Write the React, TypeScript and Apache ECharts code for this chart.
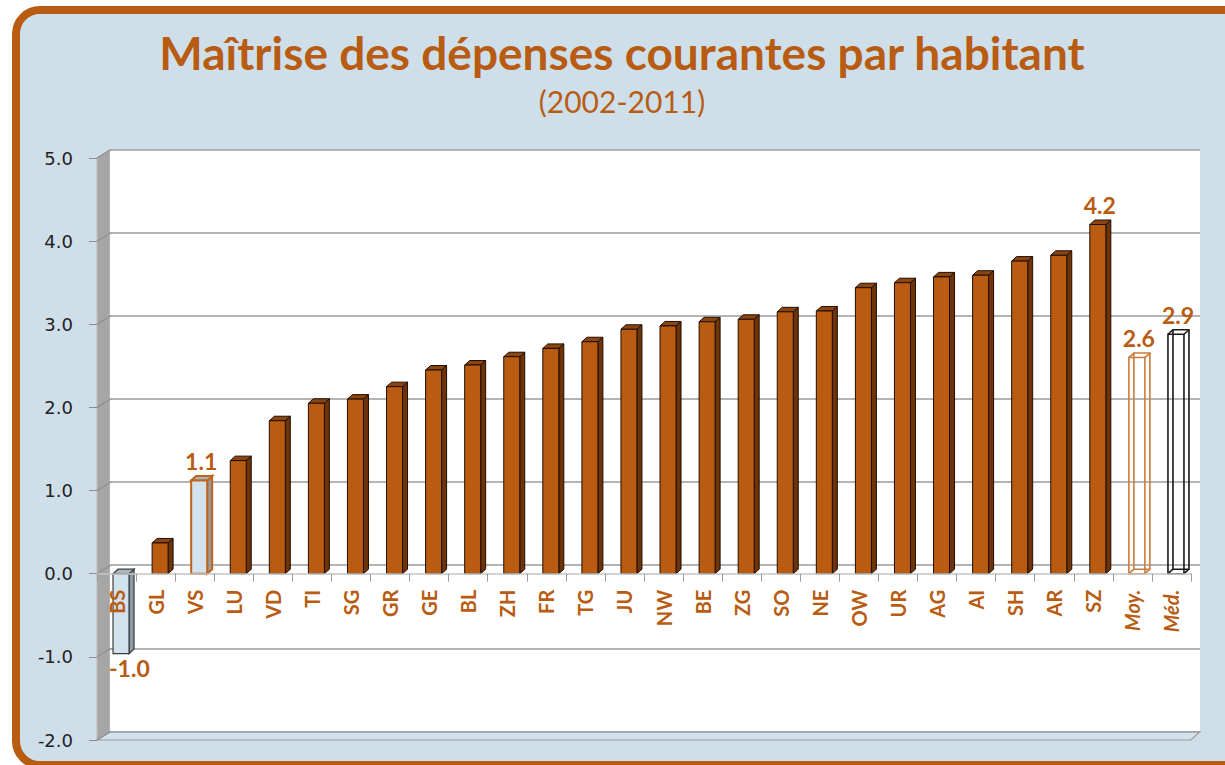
import { useEffect, useRef } from "react";
import * as echarts from "echarts";

const categories = ["BS", "GL", "VS", "LU", "VD", "TI", "SG", "GR", "GE", "BL", "ZH", "FR", "TG", "JU", "NW", "BE", "ZG", "SO", "NE", "OW", "UR", "AG", "AI", "SH", "AR", "SZ", "Moy.", "Méd."];
const values = [-0.96, 0.37, 1.12, 1.36, 1.84, 2.05, 2.1, 2.25, 2.45, 2.51, 2.61, 2.71, 2.79, 2.94, 2.98, 3.03, 3.06, 3.15, 3.16, 3.44, 3.5, 3.57, 3.59, 3.76, 3.83, 4.2, 2.6, 2.88];
const labeledCategories = ["BS", "VS", "SZ", "Moy.", "Méd."];
const yTicks = [-2, -1, 0, 1, 2, 3, 4, 5];
const titleText = "Maîtrise des dépenses courantes par habitant";
const subtitleText = "(2002-2011)";

const ORANGE = "#b85c12";
const COMIC = "'Comic Sans MS', Lato, sans-serif";
const BAR_W = 16;
const BAR_SHIFT = 4.5;
const DX = 5;
const DY = -4.5;
const WALL_DX = 14;
const WALL_DY = -8.5;

function barStyle(cat: string) {
  if (cat === "BS") return { kind: "solid", front: "#d2e2ec", side: "#8e9ba3", top: "#a9b8c0", stroke: "#3b3b3b", lw: 1.2 };
  if (cat === "VS") return { kind: "solid", front: "#d2e2ec", side: "#9a9a9a", top: "#a7b5bd", stroke: "#c0641c", lw: 2 };
  if (cat === "Moy.") return { kind: "outline", stroke: "#c97b3d", lw: 1.6 };
  if (cat === "Méd.") return { kind: "outline", stroke: "#1a1a1a", lw: 1.6 };
  return { kind: "solid", front: "#b95c12", side: "#6d3409", top: "#8c4510", stroke: "#1f0e02", lw: 1 };
}

export default function App() {
  const ref = useRef<HTMLDivElement>(null);
  useEffect(() => {
    if (!ref.current) return;
    const chart = echarts.init(ref.current, null, { renderer: "svg" });

    const barRender = (params: any, api: any) => {
      const i = api.value(0);
      const v = api.value(1);
      const cat = categories[i];
      const s: any = barStyle(cat);
      const p0 = api.coord([i, 0]);
      const p1 = api.coord([i, v]);
      const cx = p0[0] + BAR_SHIFT;
      const x0 = cx - BAR_W / 2;
      const x1 = cx + BAR_W / 2;
      const yT = Math.min(p0[1], p1[1]);
      const yB = Math.max(p0[1], p1[1]);
      const children: any[] = [];
      if (s.kind === "solid") {
        children.push({
          type: "polygon",
          shape: { points: [[x1, yT], [x1 + DX, yT + DY], [x1 + DX, yB + DY], [x1, yB]] },
          style: { fill: s.side, stroke: s.stroke, lineWidth: s.lw },
        });
        children.push({
          type: "polygon",
          shape: { points: [[x0, yT], [x0 + DX, yT + DY], [x1 + DX, yT + DY], [x1, yT]] },
          style: { fill: s.top, stroke: s.stroke, lineWidth: s.lw },
        });
        children.push({
          type: "rect",
          shape: { x: x0, y: yT, width: BAR_W, height: yB - yT },
          style: { fill: s.front, stroke: s.stroke, lineWidth: s.lw },
        });
      } else {
        const st = { fill: "none", stroke: s.stroke, lineWidth: s.lw };
        children.push({ type: "rect", shape: { x: x0 + DX, y: yT + DY, width: BAR_W, height: yB - yT }, style: st });
        children.push({ type: "line", shape: { x1: x0, y1: yT, x2: x0 + DX, y2: yT + DY }, style: st });
        children.push({ type: "line", shape: { x1: x1, y1: yT, x2: x1 + DX, y2: yT + DY }, style: st });
        children.push({ type: "line", shape: { x1: x0, y1: yB, x2: x0 + DX, y2: yB + DY }, style: st });
        children.push({ type: "line", shape: { x1: x1, y1: yB, x2: x1 + DX, y2: yB + DY }, style: st });
        children.push({ type: "rect", shape: { x: x0, y: yT, width: BAR_W, height: yB - yT }, style: st });
      }
      if (labeledCategories.indexOf(cat) >= 0) {
        const txt = v.toFixed(1);
        if (v < 0) {
          children.push({
            type: "text",
            style: { text: txt, x: x0 - 4, y: yB + 3, align: "left", verticalAlign: "top", fill: ORANGE, font: `bold 23px ${COMIC}` },
          });
        } else {
          children.push({
            type: "text",
            style: { text: txt, x: cx + 2, y: yT - 8, align: "center", verticalAlign: "bottom", fill: ORANGE, font: `bold 23px ${COMIC}` },
          });
        }
      }
      return { type: "group", children };
    };

    const wallRender = (params: any, api: any) => {
      const t = api.value(1);
      const p = api.coord([0, t]);
      const x = params.coordSys.x;
      return {
        type: "line",
        shape: { x1: x, y1: p[1], x2: x + WALL_DX, y2: p[1] + WALL_DY },
        style: { stroke: "#8f8f8f", lineWidth: 1.2 },
      };
    };

    chart.setOption({
      animation: false,
      backgroundColor: "#ffffff",
      graphic: [
        {
          type: "rect",
          z: -100,
          shape: { x: 16, y: 10, width: 1250, height: 755, r: 24 },
          style: { fill: "#cfdfe9", stroke: "#b85c12", lineWidth: 8 },
        },
        {
          type: "polygon",
          z: -50,
          shape: { points: [[97, 158], [110, 149.5], [110, 731.5], [97, 740]] },
          style: { fill: "#a6a6a6", stroke: "#bdbdbd", lineWidth: 1 },
        },
        {
          type: "polygon",
          z: -50,
          shape: { points: [[97, 740], [110, 731.5], [1200, 731.5], [1191, 740]] },
          style: { fill: "#d3e1ea", stroke: "#9b9b9b", lineWidth: 1.2 },
        },
        {
          type: "text",
          style: { text: titleText, x: 622, y: 52, align: "center", verticalAlign: "middle", fill: "#b85c14", font: `bold 46px ${COMIC}` },
        },
        {
          type: "text",
          style: { text: subtitleText, x: 622, y: 101, align: "center", verticalAlign: "middle", fill: "#b85c14", font: `30px ${COMIC}` },
        },
      ],
      grid: [
        { left: 110, top: 149.5, width: 1090, height: 582, show: true, backgroundColor: "#ffffff", borderWidth: 0, outerBoundsMode: "none", containLabel: false },
        { left: 97, top: 158, width: 1094, height: 582, outerBoundsMode: "none", containLabel: false },
        { left: 97, top: 158, width: 1094, height: 415.7, outerBoundsMode: "none", containLabel: false },
      ],
      xAxis: [
        { gridIndex: 0, type: "value", show: false, min: 0, max: 1 },
        { gridIndex: 1, type: "category", data: categories, show: false },
        {
          gridIndex: 2,
          type: "category",
          data: categories,
          position: "bottom",
          z: 20,
          axisLine: { show: true, onZero: false, lineStyle: { color: "#c4c4c4", width: 1.5 } },
          axisTick: { show: true, length: 8, alignWithLabel: false, lineStyle: { color: "#9a9a9a" } },
          axisLabel: {
            interval: 0,
            rotate: 90,
            margin: 16,
            color: ORANGE,
            fontFamily: COMIC,
            fontWeight: "bold",
            fontSize: 20,
            formatter: (v: string) => (v === "Moy." || v === "Méd." ? `{it|${v}}` : v),
            rich: { it: { fontStyle: "italic", fontWeight: "bold", fontFamily: COMIC, fontSize: 20, color: ORANGE } },
          },
          splitLine: { show: false },
        },
      ],
      yAxis: [
        {
          gridIndex: 0,
          type: "value",
          min: -2,
          max: 5,
          interval: 1,
          axisLabel: { show: false },
          axisLine: { show: false },
          axisTick: { show: false },
          splitLine: { show: true, lineStyle: { color: "#9b9b9b", width: 1.5 } },
        },
        {
          gridIndex: 1,
          type: "value",
          min: -2,
          max: 5,
          interval: 1,
          axisLine: { show: true, lineStyle: { color: "#b0b0b0" } },
          axisTick: { show: true, length: 8, lineStyle: { color: "#8c8c8c" } },
          axisLabel: { margin: 24, color: "#222222", fontFamily: "'DejaVu Sans', Verdana, sans-serif", fontSize: 18, formatter: (v: number) => v.toFixed(1) },
          splitLine: { show: false },
        },
        { gridIndex: 2, type: "value", show: false, min: 0, max: 1 },
      ],
      series: [
        {
          type: "custom",
          xAxisIndex: 1,
          yAxisIndex: 1,
          renderItem: wallRender,
          data: yTicks.map((t) => [0, t]),
          silent: true,
          z: 1,
        },
        {
          type: "custom",
          xAxisIndex: 1,
          yAxisIndex: 1,
          renderItem: barRender,
          data: values.map((v, i) => [i, v]),
          encode: { x: 0, y: 1 },
          z: 3,
        },
      ],
    });
    return () => chart.dispose();
  }, []);
  return <div ref={ref} style={{ position: "fixed", left: 0, top: 0, width: 1225, height: 765 }} />;
}
